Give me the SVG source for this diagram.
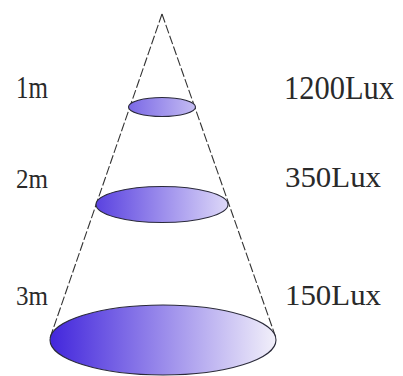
<svg xmlns="http://www.w3.org/2000/svg" width="403" height="376" viewBox="0 0 403 376">
  <style>
    .lbl { font-family: "Liberation Serif", "Times New Roman", serif; fill: #2a2a2a; }
    .cone { stroke: #333; stroke-width: 1.1; stroke-dasharray: 9 2.5; fill: none; }
    .disc { stroke: #2a2a3a; stroke-width: 1.1; }
  </style>
  <defs>
    <linearGradient id="g1" x1="0" y1="0" x2="1" y2="0">
      <stop offset="0" stop-color="#7a68e6"/>
      <stop offset="1" stop-color="#c4bcf2"/>
    </linearGradient>
    <linearGradient id="g2" x1="0" y1="0" x2="1" y2="0">
      <stop offset="0" stop-color="#5a42e0"/>
      <stop offset="1" stop-color="#ddd8f8"/>
    </linearGradient>
    <linearGradient id="g3" x1="0" y1="0" x2="1" y2="0">
      <stop offset="0" stop-color="#4226dc"/>
      <stop offset="1" stop-color="#f2f0fa"/>
    </linearGradient>
  </defs>
  <rect width="403" height="376" fill="#ffffff"/>
  <g id="connectors">
    <line class="cone" x1="162" y1="14" x2="50" y2="338"/>
    <line class="cone" x1="162" y1="14" x2="276" y2="338"/>
  </g>
  <g id="disc-1m">
    <ellipse class="disc" cx="162" cy="107" rx="33.5" ry="9.5" fill="url(#g1)"/>
  </g>
  <g id="disc-2m">
    <ellipse class="disc" cx="162" cy="204.5" rx="66" ry="18" fill="url(#g2)"/>
  </g>
  <g id="disc-3m">
    <ellipse class="disc" cx="163" cy="340" rx="113" ry="35" fill="url(#g3)"/>
  </g>
  <g id="label-1m">
    <text class="lbl" x="16" y="98" font-size="31" textLength="32" lengthAdjust="spacingAndGlyphs">1m</text>
  </g>
  <g id="label-2m">
    <text class="lbl" x="16" y="188" font-size="28" textLength="32" lengthAdjust="spacingAndGlyphs">2m</text>
  </g>
  <g id="label-3m">
    <text class="lbl" x="16" y="305" font-size="28" textLength="32" lengthAdjust="spacingAndGlyphs">3m</text>
  </g>
  <g id="label-1200">
    <text class="lbl" x="284" y="99" font-size="33" textLength="110" lengthAdjust="spacingAndGlyphs">1200Lux</text>
  </g>
  <g id="label-350">
    <text class="lbl" x="285" y="187" font-size="29" textLength="96" lengthAdjust="spacingAndGlyphs">350Lux</text>
  </g>
  <g id="label-150">
    <text class="lbl" x="285" y="305" font-size="29" textLength="96" lengthAdjust="spacingAndGlyphs">150Lux</text>
  </g>
</svg>
